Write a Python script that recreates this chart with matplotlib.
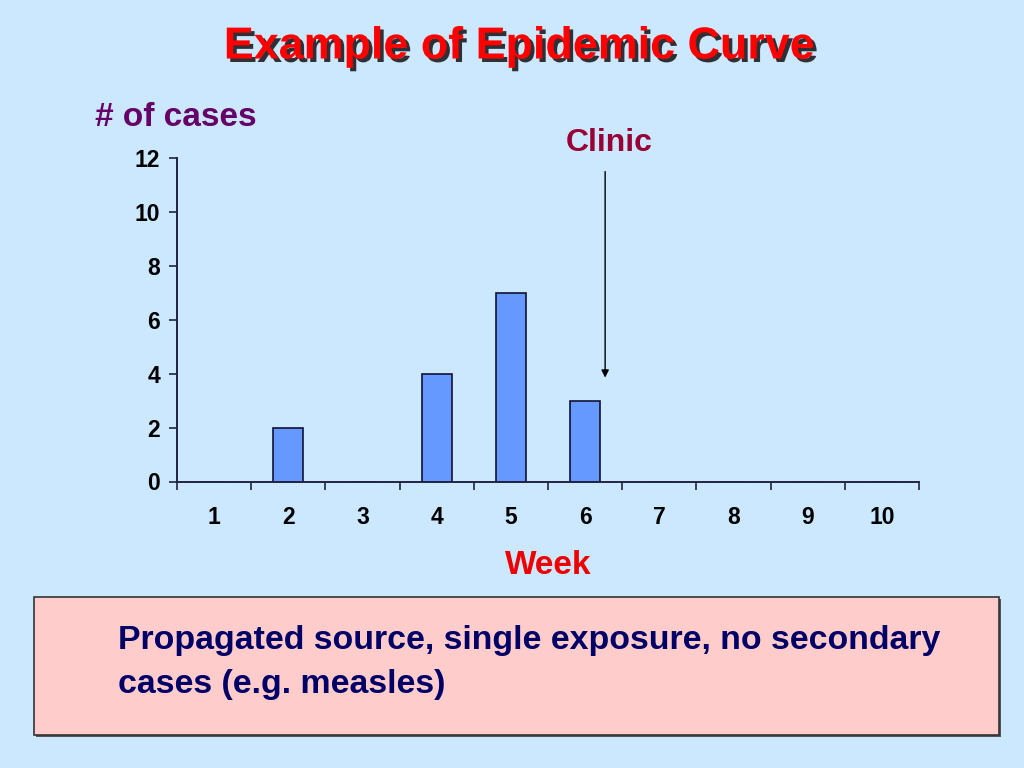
import matplotlib
matplotlib.use("Agg")
import matplotlib.pyplot as plt
import matplotlib.patheffects as pe
from matplotlib.patches import Rectangle

weeks = ["1", "2", "3", "4", "5", "6", "7", "8", "9", "10"]
cases = [0, 2, 0, 4, 7, 3, 0, 0, 0, 0]
y_ticks = [0, 2, 4, 6, 8, 10, 12]

BG = "#CCE8FF"
plt.rcParams['font.family'] = ['Liberation Sans', 'DejaVu Sans']

fig = plt.figure(figsize=(10.24, 7.68), dpi=100, facecolor=BG)
W, H = 1024, 768
ax = fig.add_axes([177 / W, 1 - 481.5 / H, (919 - 177) / W, (481.5 - 158) / H])
ax.set_facecolor(BG)

x = list(range(len(weeks)))
ax.bar(x, cases, width=0.4, color="#6699FF", edgecolor="#111133", linewidth=1.2, zorder=2)
ax.set_xlim(-0.5, len(weeks) - 0.5)
ax.set_ylim(0, 12)
ax.set_yticks(y_ticks)
ax.set_yticklabels([str(v) for v in y_ticks], fontsize=16.5, fontweight='bold')
ax.set_xticks(x)
ax.set_xticklabels(weeks, fontsize=16.5, fontweight='bold')
ax.set_xticks([i - 0.5 for i in range(len(weeks) + 1)], minor=True)
ax.tick_params(axis='x', which='major', length=0, pad=18)
ax.tick_params(axis='x', which='minor', length=6, width=1.2, direction='out', color='#222244')
ax.tick_params(axis='y', length=6, width=1.2, direction='out', pad=6, color='#222244')
for s in ['top', 'right']:
    ax.spines[s].set_visible(False)
for s in ['left', 'bottom']:
    ax.spines[s].set_linewidth(1.4)
    ax.spines[s].set_color('#222244')
    ax.spines[s].set_zorder(4)

# Clinic arrow
ax.annotate("", xy=(5.27, 3.75), xytext=(5.27, 11.6),
            arrowprops=dict(arrowstyle='-|>', color='black', lw=1.0, mutation_scale=11))
fig.text(609 / W, 1 - 143 / H, "Clinic", color="#990033", fontsize=23, fontweight='bold',
         ha='center', va='center')

# Title with shadow
title = "Example of Epidemic Curve"
fig.text(519 / W, 1 - 47 / H, title, color="#FF0000", fontsize=32.3,
         fontweight='bold', ha='center', va='center',
         path_effects=[pe.withSimplePatchShadow(offset=(2.5, -2.5), shadow_rgbFace='#111111',
                                                alpha=0.85)])

fig.text(95 / W, 1 - 118 / H, "# of cases", color="#660066", fontsize=24, fontweight='bold',
         ha='left', va='center')
fig.text(548 / W, 1 - 565 / H, "Week", color="#EE0000", fontsize=24, fontweight='bold',
         ha='center', va='center')

# Bottom box
fig.patches.append(Rectangle((36 / W, 1 - 737 / H), (1001 - 36) / W, (737 - 599) / H,
                             transform=fig.transFigure, facecolor="#555555", edgecolor='none'))
fig.patches.append(Rectangle((34 / W, 1 - 735 / H), (999 - 34) / W, (735 - 597) / H,
                             transform=fig.transFigure, facecolor="#FFCCCC", edgecolor='#333333',
                             linewidth=1.2))
fig.text(118 / W, 1 - 641 / H, "Propagated source, single exposure, no secondary",
         color="#000066", fontsize=24.4, fontweight='bold', ha='left', va='center')
fig.text(118 / W, 1 - 684 / H, "cases (e.g. measles)",
         color="#000066", fontsize=24.4, fontweight='bold', ha='left', va='center')

fig.savefig("out.png", dpi=100, facecolor=BG)
